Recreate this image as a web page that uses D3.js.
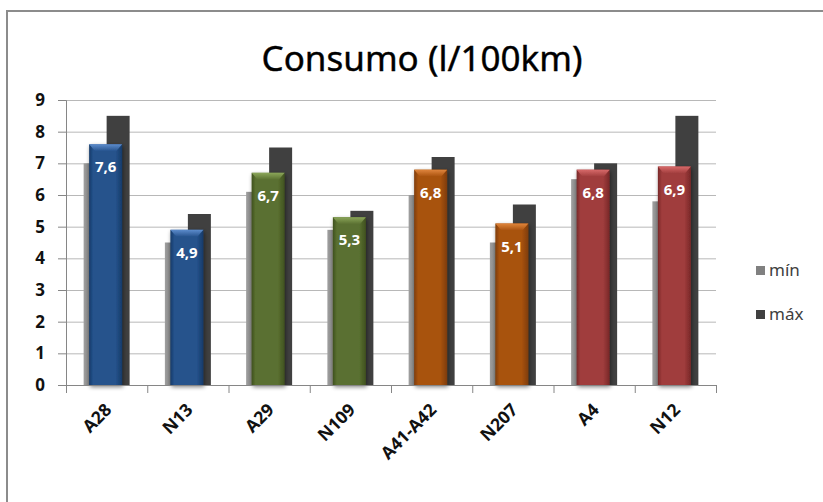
<!DOCTYPE html>
<html>
<head>
<meta charset="utf-8">
<script src="https://cdn.jsdelivr.net/npm/d3@7"></script>
<style>
  body { margin: 0; background: #fff; }
  svg { display: block; }
  .yAxis text, .catLabel { font-family: "Noto Sans", sans-serif; font-weight: bold; fill: #111; }
  .gridLines line { stroke: #b8b8b8; }
  .gridLines path { display: none; }
</style>
</head>
<body>
<script>
//chart data
var categories = ["A28", "N13", "A29", "N109", "A41-A42", "N207", "A4", "N12"];
var minVals = [7.0, 4.5, 6.1, 4.9, 6.0, 4.5, 6.5, 5.8];
var maxVals = [8.5, 5.4, 7.5, 5.5, 7.2, 5.7, 7.0, 8.5];
var avgVals = [7.6, 4.9, 6.7, 5.3, 6.8, 5.1, 6.8, 6.9];
var avgLabels = ["7,6", "4,9", "6,7", "5,3", "6,8", "5,1", "6,8", "6,9"];
var yTicks = [0, 1, 2, 3, 4, 5, 6, 7, 8, 9];
var seriesNames = ["mín", "máx"];

//colour per road pair (style, not data)
var barColors = ["blue", "blue", "green", "green", "orange", "orange", "red", "red"];
var palette = {
  blue:   { edge: "#163b69", mid: "#25528c", bevel: "#5d8ccc" },
  green:  { edge: "#3f5120", mid: "#5a7030", bevel: "#8ba65a" },
  orange: { edge: "#7e3c08", mid: "#a8520e", bevel: "#e0853c" },
  red:    { edge: "#782828", mid: "#a03d3d", bevel: "#d86a6a" }
};

var W = 823, H = 502;
var plotL = 66, plotR = 716, plotT = 100, plotB = 385;

var svg = d3.select("body").append("svg")
  .attr("width", W)
  .attr("height", H);

var defs = svg.append("defs");

//drop shadow for front bars
var filt = defs.append("filter").attr("id", "shadow")
  .attr("x", "-30%").attr("y", "-10%").attr("width", "160%").attr("height", "130%");
filt.append("feGaussianBlur").attr("in", "SourceAlpha").attr("stdDeviation", 2);
filt.append("feOffset").attr("dx", 1).attr("dy", 2).attr("result", "blur");
filt.append("feComponentTransfer").append("feFuncA").attr("type", "linear").attr("slope", 0.5);
var merge = filt.append("feMerge");
merge.append("feMergeNode");
merge.append("feMergeNode").attr("in", "SourceGraphic");

Object.keys(palette).forEach(function(k) {
  var p = palette[k];
  var g = defs.append("linearGradient").attr("id", "body-" + k)
    .attr("x1", 0).attr("x2", 1).attr("y1", 0).attr("y2", 0);
  g.append("stop").attr("offset", "0%").attr("stop-color", p.edge);
  g.append("stop").attr("offset", "12%").attr("stop-color", p.mid);
  g.append("stop").attr("offset", "80%").attr("stop-color", p.mid);
  g.append("stop").attr("offset", "100%").attr("stop-color", p.edge);
  var b = defs.append("linearGradient").attr("id", "bevel-" + k)
    .attr("x1", 0).attr("x2", 0).attr("y1", 0).attr("y2", 1);
  b.append("stop").attr("offset", "0%").attr("stop-color", p.bevel);
  b.append("stop").attr("offset", "100%").attr("stop-color", p.mid);
});

var minGrad = defs.append("linearGradient").attr("id", "minGrad")
  .attr("x1", 0).attr("x2", 1).attr("y1", 0).attr("y2", 0);
minGrad.append("stop").attr("offset", "0%").attr("stop-color", "#a0a0a0");
minGrad.append("stop").attr("offset", "30%").attr("stop-color", "#808080");

//outer frame
svg.append("rect")
  .attr("x", 7).attr("y", 11)
  .attr("width", 840).attr("height", 520)
  .attr("fill", "none")
  .attr("stroke", "#8c8c8c")
  .attr("stroke-width", 2);

//title
svg.append("text")
  .attr("x", 422).attr("y", 71)
  .attr("text-anchor", "middle")
  .style("font-family", "'Noto Sans', sans-serif")
  .style("font-size", "35px")
  .style("fill", "#000")
  .style("stroke", "#000")
  .style("stroke-width", 0.4)
  .text("Consumo (l/100km)");

//scales
var y = d3.scaleLinear().domain([0, 9]).range([plotB, plotT]);
var x = d3.scaleBand().domain(categories).range([plotL, plotR]).padding(0);
var edges = d3.scaleLinear().domain([0, categories.length]).range([plotL, plotR]);

//gridlines
svg.append("g")
  .attr("class", "gridLines")
  .attr("transform", "translate(" + plotL + ",0)")
  .call(d3.axisLeft(y).tickValues(yTicks.slice(1)).tickSize(-(plotR - plotL)).tickFormat(""));

//y axis
var yAxis = svg.append("g")
  .attr("class", "yAxis")
  .attr("transform", "translate(" + plotL + ",0)")
  .call(d3.axisLeft(y).tickValues(yTicks).tickSize(8).tickPadding(13));
yAxis.selectAll("text").style("font-size", "17px");
yAxis.selectAll("line, path").attr("stroke", "#868686");

//bars
var cx = function(i) { return x(categories[i]) + x.bandwidth() / 2; };

svg.selectAll(".minBar")
  .data(minVals).enter().append("rect")
  .attr("class", "minBar")
  .attr("x", function(d, i) { return cx(i) - 23; })
  .attr("width", 23)
  .attr("y", function(d) { return y(d); })
  .attr("height", function(d) { return plotB - y(d); })
  .attr("fill", "url(#minGrad)");

svg.selectAll(".maxBar")
  .data(maxVals).enter().append("rect")
  .attr("class", "maxBar")
  .attr("x", function(d, i) { return cx(i); })
  .attr("width", 23)
  .attr("y", function(d) { return y(d); })
  .attr("height", function(d) { return plotB - y(d); })
  .attr("fill", "#404040");

var bw = 33;
var front = svg.selectAll(".avgBar")
  .data(avgVals).enter().append("g")
  .attr("class", "avgBar")
  .attr("filter", "url(#shadow)");

front.append("rect")
  .attr("x", function(d, i) { return cx(i) - 17.5; })
  .attr("width", bw)
  .attr("y", function(d) { return y(d); })
  .attr("height", function(d) { return plotB - y(d); })
  .attr("fill", function(d, i) { return "url(#body-" + barColors[i] + ")"; });

//top bevel
front.append("path")
  .attr("d", function(d, i) {
    var l = cx(i) - 17.5, t = y(d);
    return "M" + l + "," + t + "H" + (l + bw) + "L" + (l + bw - 6) + "," + (t + 7) +
      "H" + (l + 6) + "Z";
  })
  .attr("fill", function(d, i) { return "url(#bevel-" + barColors[i] + ")"; });

//value labels
svg.selectAll(".valLabel")
  .data(avgVals).enter().append("text")
  .attr("class", "valLabel")
  .attr("x", function(d, i) { return cx(i) - 1; })
  .attr("y", function(d) { return y(d) + 28; })
  .attr("text-anchor", "middle")
  .style("font-family", "'Noto Sans', sans-serif")
  .style("font-weight", "bold")
  .style("font-size", "15px")
  .style("fill", "#fff")
  .text(function(d, i) { return avgLabels[i]; });

//x axis (ticks between categories)
var xAxis = svg.append("g")
  .attr("transform", "translate(0," + plotB + ")")
  .call(d3.axisBottom(edges).ticks(categories.length).tickSize(8).tickFormat(""));
xAxis.selectAll("line, path").attr("stroke", "#868686");

svg.selectAll(".catLabel")
  .data(categories).enter().append("text")
  .attr("class", "catLabel")
  .attr("text-anchor", "end")
  .attr("transform", function(d) {
    return "translate(" + (x(d) + x.bandwidth() / 2 + 6) + ",411) rotate(-45)";
  })
  .style("font-size", "17.5px")
  .text(function(d) { return d; });

//legend
var legend = svg.selectAll(".legend")
  .data(seriesNames).enter().append("g")
  .attr("class", "legend")
  .attr("transform", function(d, i) { return "translate(756," + (266 + i * 44) + ")"; });
legend.append("rect")
  .attr("width", 9).attr("height", 9)
  .attr("fill", function(d, i) { return i == 0 ? "#808080" : "#404040"; });
legend.append("text")
  .attr("x", 13).attr("y", 10)
  .style("font-family", "'Noto Sans', sans-serif")
  .style("font-size", "17px")
  .style("fill", "#404040")
  .text(function(d) { return d; });
</script>
</body>
</html>
